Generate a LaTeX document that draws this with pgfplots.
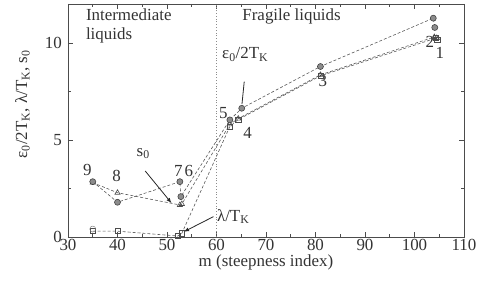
\documentclass[border=0pt]{standalone}
\usepackage{fontspec}
\setmainfont{Liberation Serif}
\usepackage{pgfplots}
\pgfplotsset{compat=1.18}
\begin{document}
\begin{tikzpicture}[font=\fontsize{17}{19}\selectfont]
\begin{axis}[name=a,
  scale only axis, width=396bp, height=233bp,
  xmin=30, xmax=110, ymin=0, ymax=12,
  xtick={30,40,...,110}, minor xtick={35,45,...,105},
  ytick={0,5,10}, minor ytick={2.5,7.5},
  tick align=inside,
  major tick length=5bp, minor tick length=3bp,
  axis line style={black!70, line width=0.8pt},
  every tick/.style={black!70, line width=0.6pt},
  /pgf/number format/assume math mode=true,
  tick label style={font=\fontsize{17}{19}\selectfont, text=black!80, inner sep=2bp},
  yticklabel style={xshift=-4bp},
  xlabel={m (steepness index)},
  ylabel={ε\textsubscript{0}/2T\textsubscript{K}, λ/T\textsubscript{K}, s\textsubscript{0}},
  xlabel style={yshift=1bp, text=black!80},
  ylabel style={at={(axis description cs:-0.115,0.57)}, anchor=center, text=black!80},
  clip=false,
]
% vertical dotted separator
\addplot[black!45, dotted, line width=0.8pt] coordinates {(60,0) (60,12)};
% lambda/T_K : open squares
\addplot[black!65, densely dashed, line width=0.6pt, mark=square, mark size=2.6bp,
  mark options={solid, draw=black!70, fill=white}] coordinates {
  (35,0.3) (40,0.3) (52.2,0.05) (53,0.19) (62.7,5.69) (64.4,6.05) (81,8.3) (104.3,10.24) (104.6,10.15)};
% s0 : open triangles
\addplot[black!65, densely dashed, line width=0.6pt, mark=triangle, mark size=3bp,
  mark options={solid, draw=black!70, fill=white}] coordinates {
  (35,2.8) (40,2.28) (52.6,1.65) (53,1.7) (62.7,5.8) (64.4,6.1) (81,8.35) (104,10.3) (104.5,10.25)};
% eps0/2T_K : filled circles
\addplot[black!65, densely dashed, line width=0.6pt, mark=*, mark size=3bp,
  mark options={solid, draw=black!75, fill=black!45}] coordinates {
  (35,2.85) (40,1.79) (52.6,2.85) (52.8,2.08) (62.7,6.03) (65.1,6.63) (81,8.78) (103.8,11.27) (104.1,10.79)};
% open circle at low lambda (intermediate)
\addplot[only marks, mark=o, mark size=3bp, draw=black!55] coordinates {(35,0.41)};
% region labels
\node[anchor=north west, align=left, text=black!80, inner sep=0pt] at (axis cs:33.6,11.75) {Intermediate\\liquids};
\node[anchor=north west, text=black!80, inner sep=0pt] at (axis cs:65.2,11.75) {Fragile liquids};
% series labels with arrows
\node[text=black!80] at (axis cs:65.8,9.4) {ε\textsubscript{0}/2T\textsubscript{K}};
\draw[black!85, line width=0.8pt] (axis cs:65.6,8.0) -- (axis cs:65.15,6.85);
\node[text=black!80] at (axis cs:45.2,4.3) {s\textsubscript{0}};
\draw[black!85, line width=0.8pt, -{latex}] (axis cs:45.6,3.4) -- (axis cs:50.9,1.75);
\node[text=black!80, anchor=west] at (axis cs:59.4,1.05) {λ/T\textsubscript{K}};
\draw[black!85, line width=0.8pt, -{latex}] (axis cs:59.4,1.05) -- (axis cs:53.4,0.27);
% material numbers
\node[text=black!80] at (axis cs:33.9,3.47) {9};
\node[text=black!80] at (axis cs:39.8,3.13) {8};
\node[text=black!80] at (axis cs:52.3,3.39) {7};
\node[text=black!80] at (axis cs:54.4,3.39) {6};
\node[text=black!80] at (axis cs:61.4,6.38) {5};
\node[text=black!80] at (axis cs:66.3,5.35) {4};
\node[text=black!80] at (axis cs:81.5,8.05) {3};
\node[text=black!80] at (axis cs:103.1,10.07) {2};
\node[text=black!80] at (axis cs:105.1,9.47) {1};
\end{axis}
\pgfresetboundingbox
\path (a.south west) ++(-68bp,-49bp) rectangle ++(478bp,286bp);
\end{tikzpicture}
\end{document}
